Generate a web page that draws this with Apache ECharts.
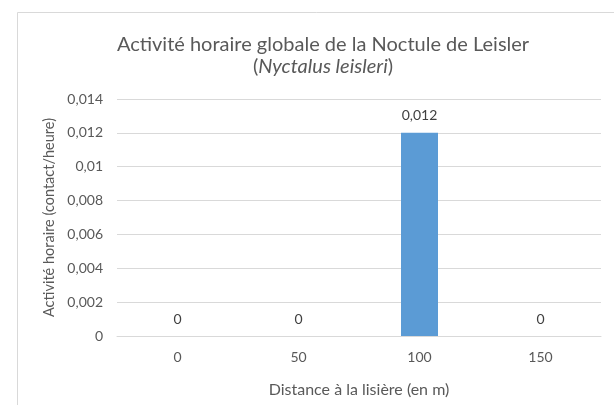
<!DOCTYPE html>
<html>
<head>
<meta charset="utf-8">
<script src="https://cdn.jsdelivr.net/npm/echarts@6/dist/echarts.min.js"></script>
<style>
    html, body { margin: 0; padding: 0; background: #fff; }
    #main { width: 614px; height: 405px; }
</style>
</head>
<body>
<div id="main"></div>
<script>
// données
var distances = ['0', '50', '100', '150'];
var activite = [0, 0, 0.012, 0];
var yTicks = [0, 0.002, 0.004, 0.006, 0.008, 0.01, 0.012, 0.014];

var FONT = 'Lato';

function virgule(v) {
    return String(+v.toFixed(3)).replace('.', ',');
}

var myChart = echarts.init(document.getElementById('main'));

var option = {
    backgroundColor: '#fff',
    animation: false,
    graphic: [{
        type: 'rect',
        shape: { x: 17.5, y: 12.5, width: 700, height: 500 },
        style: { fill: 'none', stroke: '#d9d9d9', lineWidth: 1 },
        silent: true
    }],
    title: {
        left: 318,
        top: 29,
        textAlign: 'center',
        text: '{n|Activité horaire globale de la Noctule de Leisler}\n{n|(}{i|Nyctalus leisleri}{n|)}',
        textStyle: {
            fontFamily: FONT,
            fontSize: 20,
            fontWeight: 'normal',
            color: '#595959',
            lineHeight: 22,
            rich: {
                n: { fontFamily: FONT, fontSize: 20, color: '#595959', lineHeight: 22 },
                i: { fontFamily: FONT, fontSize: 20, color: '#595959', fontStyle: 'italic', lineHeight: 22 }
            }
        }
    },
    grid: {
        left: 117,
        right: 13,
        top: 99,
        bottom: 69,
        containLabel: false
    },
    xAxis: {
        type: 'category',
        data: distances,
        name: 'Distance à la lisière (en m)',
        nameLocation: 'middle',
        nameGap: 46,
        nameTextStyle: { fontFamily: FONT, fontSize: 16, color: '#595959' },
        axisLine: { lineStyle: { color: '#d9d9d9', width: 1 } },
        axisTick: { show: false },
        axisLabel: { fontFamily: FONT, fontSize: 14, color: '#595959', margin: 14 }
    },
    yAxis: {
        type: 'value',
        min: yTicks[0],
        max: yTicks[yTicks.length - 1],
        interval: 0.002,
        name: 'Activité horaire (contact/heure)',
        nameLocation: 'middle',
        nameGap: 56,
        nameTextStyle: { fontFamily: FONT, fontSize: 14.5, color: '#595959' },
        axisLine: { show: false },
        axisTick: { show: false },
        splitLine: { lineStyle: { color: '#d9d9d9', width: 1 } },
        axisLabel: {
            fontFamily: FONT,
            fontSize: 14,
            color: '#595959',
            margin: 14,
            formatter: function (v) { return virgule(v); }
        }
    },
    series: [{
        type: 'bar',
        data: activite,
        barWidth: 37,
        itemStyle: { color: '#5b9bd5' },
        label: {
            show: true,
            position: 'top',
            distance: 10,
            fontFamily: FONT,
            fontSize: 14,
            color: '#404040',
            formatter: function (p) { return virgule(p.value); }
        }
    }]
};

myChart.setOption(option);
</script>
</body>
</html>
